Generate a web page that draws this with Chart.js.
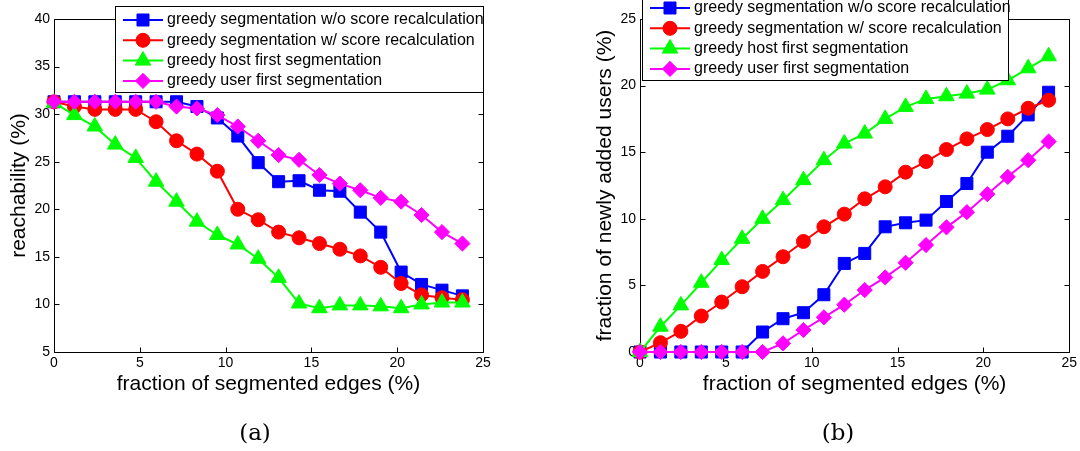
<!DOCTYPE html>
<html>
<head>
<meta charset="utf-8">
<script src="https://cdn.jsdelivr.net/npm/chart.js@4.4.1/dist/chart.umd.min.js"></script>
<style>
  body { margin: 0; background: #fff; width: 1080px; height: 451px; position: relative; overflow: hidden; }
  canvas { position: absolute; top: 0; }
  #chartA { left: 0; }
  #chartB { left: 580px; }
  .sub { position: absolute; top: 421px; font-family: "DejaVu Serif", serif; font-size: 23px; line-height: 23px; transform: translateX(-50%); color: #000; }
</style>
</head>
<body>
<canvas id="chartA" width="500" height="451"></canvas>
<canvas id="chartB" width="500" height="451"></canvas>
<div class="sub" style="left:255px">(a)</div>
<div class="sub" style="left:838px">(b)</div>
<script>
// -------- DATA --------
const fractionEdges = [0, 1.19, 2.38, 3.57, 4.76, 5.95, 7.14, 8.33, 9.52, 10.71, 11.9,
  13.09, 14.28, 15.47, 16.66, 17.85, 19.04, 20.23, 21.42, 22.61, 23.8];

const seriesNames = [
  "greedy segmentation w/o score recalculation",
  "greedy segmentation w/ score recalculation",
  "greedy host first segmentation",
  "greedy user first segmentation"
];

const xTicks = [0, 5, 10, 15, 20, 25];
const reachTicks = [5, 10, 15, 20, 25, 30, 35, 40];
const newUserTicks = [0, 5, 10, 15, 20, 25];

// (a) reachability (%)
const reachNoRecalc = [31.3, 31.3, 31.3, 31.3, 31.3, 31.3, 31.3, 30.8, 29.6, 27.7, 24.9,
  22.9, 23.0, 22.0, 21.9, 19.7, 17.6, 13.4, 12.1, 11.5, 10.9];
const reachRecalc = [31.3, 30.8, 30.5, 30.5, 30.5, 29.2, 27.2, 25.8, 24.0, 20.0, 18.9,
  17.6, 17.0, 16.4, 15.8, 15.1, 13.9, 12.2, 11.0, 10.7, 10.5];
const reachHost = [31.2, 29.9, 28.7, 26.8, 25.4, 22.9, 20.8, 18.7, 17.3, 16.3, 14.8,
  12.8, 10.1, 9.6, 9.9, 9.9, 9.8, 9.6, 10.0, 10.2, 10.2];
const reachUser = [31.3, 31.3, 31.3, 31.3, 31.3, 31.3, 30.8, 30.6, 29.9, 28.7, 27.2,
  25.7, 25.2, 23.6, 22.7, 22.0, 21.2, 20.8, 19.4, 17.6, 16.4];

// (b) fraction of newly added users (%)
const newNoRecalc = [0, 0, 0, 0, 0, 0, 1.5, 2.5, 2.95, 4.3, 6.65,
  7.4, 9.4, 9.7, 9.9, 11.3, 12.65, 15.0, 16.2, 17.8, 19.5];
const newRecalc = [0, 0.7, 1.55, 2.7, 3.75, 4.9, 6.05, 7.15, 8.3, 9.4, 10.35,
  11.5, 12.4, 13.5, 14.3, 15.2, 16.0, 16.7, 17.5, 18.3, 18.9];
const newHost = [0, 1.9, 3.5, 5.2, 6.9, 8.5, 10.0, 11.4, 12.9, 14.4, 15.65,
  16.4, 17.5, 18.4, 19.0, 19.2, 19.4, 19.7, 20.4, 21.3, 22.2];
const newUser = [0, 0, 0, 0, 0, 0, 0, 0.65, 1.65, 2.6, 3.55,
  4.65, 5.6, 6.7, 8.03, 9.36, 10.5, 11.85, 13.15, 14.4, 15.8];

// -------- STYLES --------
const FONT = "'Liberation Sans', Arial, Helvetica, sans-serif";
const lineStyles = [
  { color: "#0000ff", pointStyle: "rect", radius: 8.5, order: 3 },
  { color: "#ff0000", pointStyle: "circle", radius: 7, order: 2 },
  { color: "#00ff00", pointStyle: "triangle", radius: 9, order: 1 },
  { color: "#ff00ff", pointStyle: "rectRot", radius: 7.6, order: 0 }
];

// box + inward tick marks like matlab axes
const framePlugin = {
  id: "frame",
  beforeDatasetsDraw(chart) {
    const { ctx, chartArea: a, scales } = chart;
    const L = Math.round(a.left) + 0.5, R = Math.round(a.right) + 0.5;
    const T = Math.round(a.top) + 0.5, B = Math.round(a.bottom) + 0.5;
    ctx.save();
    ctx.strokeStyle = "#000";
    ctx.lineWidth = 1;
    ctx.beginPath();
    ctx.rect(L, T, R - L, B - T);
    scales.x.ticks.forEach((t) => {
      const px = Math.round(scales.x.getPixelForValue(t.value)) + 0.5;
      ctx.moveTo(px, B); ctx.lineTo(px, B - 5);
      ctx.moveTo(px, T); ctx.lineTo(px, T + 5);
    });
    scales.y.ticks.forEach((t) => {
      const py = Math.round(scales.y.getPixelForValue(t.value)) + 0.5;
      ctx.moveTo(L, py); ctx.lineTo(L + 5, py);
      ctx.moveTo(R, py); ctx.lineTo(R - 5, py);
    });
    ctx.stroke();
    ctx.restore();
  }
};

// legend box drawn over the plot, line sample with marker
const boxLegend = {
  id: "boxLegend",
  afterDraw(chart, args, opts) {
    const ctx = chart.ctx;
    ctx.save();
    ctx.fillStyle = "#fff";
    ctx.fillRect(opts.x, opts.y, opts.w, opts.h);
    ctx.strokeStyle = "#000";
    ctx.lineWidth = 1;
    ctx.strokeRect(opts.x + 0.5, opts.y + 0.5, opts.w, opts.h);
    ctx.font = "16px " + FONT;
    ctx.textBaseline = "middle";
    chart.data.datasets.forEach((ds, i) => {
      const y = opts.y + opts.first + i * opts.gap;
      const x0 = opts.x + 8;
      ctx.strokeStyle = ds.borderColor;
      ctx.lineWidth = ds.borderWidth;
      ctx.beginPath();
      ctx.moveTo(x0, y);
      ctx.lineTo(x0 + 40, y);
      ctx.stroke();
      ctx.fillStyle = ds.pointBackgroundColor;
      ctx.strokeStyle = ds.pointBorderColor;
      ctx.lineWidth = 1;
      Chart.helpers.drawPoint(ctx, { pointStyle: ds.pointStyle, radius: ds.pointRadius, rotation: 0, borderWidth: 1 }, x0 + 20, y);
      ctx.fillStyle = "#000";
      ctx.fillText(ds.label, x0 + 44, y);
    });
    ctx.restore();
  }
};

function makeChart(id, seriesList, yTicks, yTitle, box) {
  const datasets = seriesList.map((vals, i) => ({
    label: seriesNames[i],
    data: vals.map((v, j) => ({ x: fractionEdges[j], y: v })),
    borderColor: lineStyles[i].color,
    backgroundColor: lineStyles[i].color,
    pointBackgroundColor: lineStyles[i].color,
    pointBorderColor: lineStyles[i].color,
    pointStyle: lineStyles[i].pointStyle,
    pointRadius: lineStyles[i].radius,
    pointBorderWidth: 1,
    borderWidth: 2,
    tension: 0,
    clip: false,
    order: lineStyles[i].order
  }));

  return new Chart(document.getElementById(id), {
    type: "line",
    data: { datasets },
    plugins: [framePlugin, boxLegend],
    options: {
      responsive: false,
      animation: false,
      devicePixelRatio: 1,
      layout: { padding: { top: 19, right: box.padRight, left: 0, bottom: 0 } },
      plugins: {
        legend: { display: false },
        tooltip: { enabled: false },
        boxLegend: box.legend
      },
      scales: {
        x: {
          type: "linear",
          min: 0,
          max: 25,
          afterBuildTicks: (s) => { s.ticks = xTicks.map((v) => ({ value: v })); },
          afterFit: (s) => { s.height = 99; },
          grid: { display: false, drawTicks: false },
          border: { display: false },
          ticks: { color: "#000", font: { family: FONT, size: 14 }, padding: 3, maxRotation: 0 },
          title: {
            display: true,
            text: "fraction of segmented edges (%)",
            color: "#000",
            font: { family: FONT, size: 21 },
            padding: { top: 0, bottom: 54 }
          }
        },
        y: {
          type: "linear",
          min: yTicks[0],
          max: yTicks[yTicks.length - 1],
          afterBuildTicks: (s) => { s.ticks = yTicks.map((v) => ({ value: v })); },
          afterFit: (s) => { s.width = box.axisWidth; },
          grid: { display: false, drawTicks: false },
          border: { display: false },
          ticks: { color: "#000", font: { family: FONT, size: 14 }, padding: 4 },
          title: {
            display: true,
            text: yTitle,
            color: "#000",
            font: { family: FONT, size: 21 },
            padding: { top: box.titlePad, bottom: 0 }
          }
        }
      }
    }
  });
}

makeChart("chartA", [reachNoRecalc, reachRecalc, reachHost, reachUser], reachTicks,
  "reachability (%)",
  { padRight: 17, axisWidth: 54, titlePad: 7,
    legend: { x: 115, y: 6, w: 368, h: 86, first: 14, gap: 20.3 } });

makeChart("chartB", [newNoRecalc, newRecalc, newHost, newUser], newUserTicks,
  "fraction of newly added users (%)",
  { padRight: 10, axisWidth: 60, titlePad: 12.4,
    legend: { x: 62, y: -6, w: 366, h: 86, first: 14, gap: 20.3 } });
</script>
</body>
</html>
